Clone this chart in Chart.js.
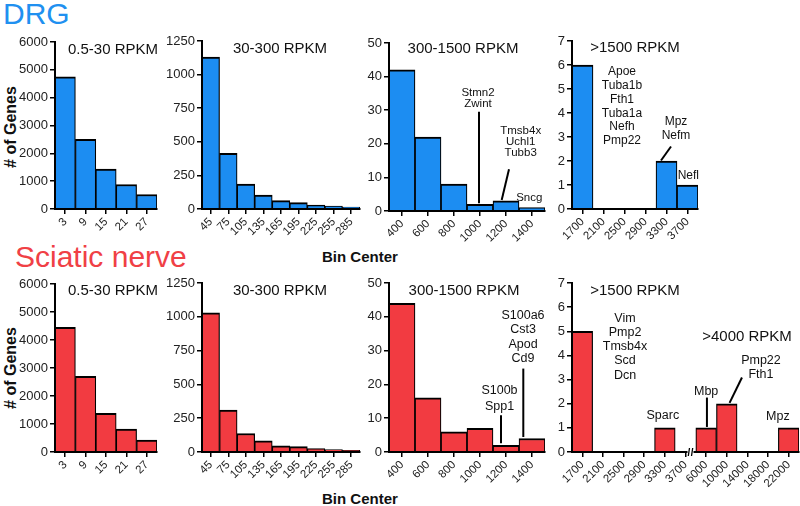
<!DOCTYPE html>
<html><head><meta charset="utf-8">
<script src="https://cdn.jsdelivr.net/npm/chart.js@4.4.0/dist/chart.umd.min.js"></script>
<style>
html,body{margin:0;padding:0;background:#fff;}
#wrap{position:relative;width:800px;height:506px;overflow:hidden;font-family:'Liberation Sans',Arial,Helvetica,sans-serif;background:#fff;}
canvas{position:absolute;left:0;top:0;}
.lbl{position:absolute;white-space:nowrap;line-height:1;}
.rot{transform:translate(-50%,-50%) rotate(-90deg);}
</style></head><body>
<div id="wrap">
  <div class="lbl" style="left:3px;top:-1px;font-size:30px;color:#2090F0">DRG</div>
  <div class="lbl" style="left:15px;top:241.5px;font-size:30px;color:#F04045">Sciatic nerve</div>
  <div class="lbl rot" style="left:10.5px;top:127px;font-size:16px;font-weight:bold;color:#111">&#35; of Genes</div>
  <div class="lbl rot" style="left:10.5px;top:368px;font-size:16px;font-weight:bold;color:#111">&#35; of Genes</div>
  <div class="lbl" style="left:322px;top:248.5px;font-size:15px;font-weight:bold;color:#111">Bin Center</div>
  <div class="lbl" style="left:322px;top:491.3px;font-size:15px;font-weight:bold;color:#111">Bin Center</div>
</div>
<script>
// ---------- data ----------
const lowBins = ['3', '9', '15', '21', '27'];
const midBins = ['45', '75', '105', '135', '165', '195', '225', '255', '285'];
const highBins = ['400', '600', '800', '1000', '1200', '1400'];
const topBinsDRG = ['1700', '2100', '2500', '2900', '3300', '3700'];
const topBinsSN = ['1700', '2100', '2500', '2900', '3300', '3700', '6000', '10000', '14000', '18000', '22000'];

const drgLowCounts = [4750, 2500, 1430, 880, 520];
const drgMidCounts = [1130, 415, 186, 104, 62, 47, 30, 22, 15];
const drgHighCounts = [42, 22, 8, 2, 3, 1];
const drgTopCounts = [6, 0, 0, 0, 2, 1];

const snLowCounts = [4450, 2700, 1380, 820, 430];
const snMidCounts = [1030, 310, 137, 82, 45, 40, 25, 18, 12];
const snHighCounts = [44, 16, 6, 7, 2, 4];
const snTopCounts = [5, 0, 0, 0, 1, 0, 1, 2, 0, 0, 1];

const drgGenes1000 = ['Stmn2', 'Zwint'];
const drgGenes1200 = ['Tmsb4x', 'Uchl1', 'Tubb3'];
const drgGenes1400 = ['Sncg'];
const drgGenes1700 = ['Apoe', 'Tuba1b', 'Fth1', 'Tuba1a', 'Nefh', 'Pmp22'];
const drgGenes3300 = ['Mpz', 'Nefm'];
const drgGenes3700 = ['Nefl'];
const snGenes1200 = ['S100b', 'Spp1'];
const snGenes1400 = ['S100a6', 'Cst3', 'Apod', 'Cd9'];
const snGenes1700 = ['Vim', 'Pmp2', 'Tmsb4x', 'Scd', 'Dcn'];
const snGenes3300 = ['Sparc'];
const snGenes6000 = ['Mbp'];
const snGenes10000 = ['Pmp22', 'Fth1'];
const snGenes22000 = ['Mpz'];

// ---------- style ----------
const FONT = "'Liberation Sans', Arial, Helvetica, sans-serif";
const BLUE = '#1C8DF2';
const RED = '#F23B41';
Chart.defaults.font.family = FONT;
Chart.defaults.color = '#222';

const annotate = {
  id: 'annotate',
  afterDatasetsDraw(chart, args, opts) {
    const ctx = chart.ctx, xs = chart.scales.x, ys = chart.scales.y;
    const vals = chart.data.datasets[0].data;
    ctx.save();
    ctx.fillStyle = '#111';
    ctx.strokeStyle = '#000';
    ctx.textAlign = 'center';
    ctx.textBaseline = 'middle';
    (opts.titles || []).forEach(t => {
      ctx.font = (t.size || 15) + 'px ' + FONT;
      ctx.fillText(t.text, t.x, t.y);
    });
    (opts.notes || []).forEach(n => {
      const bx = xs.getPixelForValue(n.bin), by = ys.getPixelForValue(vals[n.bin]);
      ctx.font = n.size + 'px ' + FONT;
      n.genes.forEach((g, i) => ctx.fillText(g, bx + n.dx, by + n.dy + i * (n.lh || 0)));
      if (n.line) {
        ctx.lineWidth = 2;
        ctx.beginPath();
        ctx.moveTo(bx + n.line[0], by + n.line[1]);
        ctx.lineTo(bx + n.line[2], by + n.line[3]);
        ctx.stroke();
      }
    });
    ctx.restore();
  },
  afterDraw(chart, args, opts) {
    if (opts.breakBin == null) return;
    const ctx = chart.ctx, xs = chart.scales.x;
    const x = xs.getPixelForValue(opts.breakBin) + opts.breakDx;
    const y = chart.chartArea.bottom;
    ctx.save();
    ctx.fillStyle = '#fff';
    ctx.fillRect(x - 3, y - 2, 6, 4);
    ctx.strokeStyle = '#000';
    ctx.lineWidth = 1.3;
    ctx.beginPath();
    ctx.moveTo(x - 2.2, y + 4); ctx.lineTo(x - 1, y - 4);
    ctx.moveTo(x + 1, y + 4); ctx.lineTo(x + 2.2, y - 4);
    ctx.stroke();
    ctx.restore();
  }
};

const AXW = 40, AXH = 40;
function makeChart(c) {
  const canvas = document.createElement('canvas');
  canvas.width = 800; canvas.height = 506;
  document.getElementById('wrap').appendChild(canvas);
  const [L, R, T, B] = c.area;
  const axisGrid = {display: true, drawOnChartArea: false, offset: false, tickLength: 5, color: '#000', lineWidth: 1.5};
  const axisBorder = {display: true, color: '#000', width: 2, z: 1};
  new Chart(canvas, {
    type: 'bar',
    data: {
      labels: c.labels,
      datasets: [{
        data: c.values,
        backgroundColor: c.color,
        borderColor: '#000',
        borderWidth: {top: 2, left: 1.2, right: 1.2, bottom: 0},
        barPercentage: 1,
        categoryPercentage: 1
      }]
    },
    options: {
      responsive: false, animation: false, devicePixelRatio: 1, events: [],
      layout: {padding: {left: L - AXW, top: T, right: 800 - R, bottom: 506 - B - AXH}},
      plugins: {
        legend: {display: false}, tooltip: {enabled: false},
        annotate: {titles: c.titles, notes: c.notes || [], breakBin: c.breakBin, breakDx: c.breakDx}
      },
      scales: {
        x: {
          afterFit(s) { s.height = AXH; },
          grid: axisGrid, border: axisBorder,
          ticks: {autoSkip: false, maxRotation: 45, minRotation: 45, padding: 1, font: {size: 11.5}, color: '#222'}
        },
        y: {
          min: 0, max: c.max,
          afterFit(s) { s.width = AXW; },
          grid: axisGrid, border: axisBorder,
          ticks: {stepSize: c.step, padding: 2, font: {size: 13}, color: '#222', callback: v => String(v)}
        }
      }
    },
    plugins: [annotate]
  });
}

// ---------- DRG row ----------
makeChart({labels: lowBins, values: drgLowCounts, color: BLUE, area: [55, 157, 42, 209], max: 6000, step: 1000,
  titles: [{text: '0.5-30 RPKM', x: 113, y: 50}]});
makeChart({labels: midBins, values: drgMidCounts, color: BLUE, area: [202, 360, 41, 209], max: 1250, step: 250,
  titles: [{text: '30-300 RPKM', x: 280, y: 49}]});
makeChart({labels: highBins, values: drgHighCounts, color: BLUE, area: [389, 545, 43, 211], max: 50, step: 10,
  titles: [{text: '300-1500 RPKM', x: 463, y: 49}],
  notes: [
    {genes: drgGenes1000, bin: 3, dx: -2, dy: -111, lh: 11, size: 11.5, line: [-1, -92.5, -1, -1]},
    {genes: drgGenes1200, bin: 4, dx: 14.7, dy: -70.2, lh: 11, size: 11.5, line: [3, -31.6, -4.3, -1]},
    {genes: drgGenes1400, bin: 5, dx: -2.7, dy: -9.9, size: 11.5}
  ]});
makeChart({labels: topBinsDRG, values: drgTopCounts, color: BLUE, area: [572, 698, 41, 209], max: 7, step: 1,
  titles: [{text: '>1500 RPKM', x: 635, y: 48}],
  notes: [
    {genes: drgGenes1700, bin: 0, dx: 39.5, dy: 6.9, lh: 13.8, size: 12},
    {genes: drgGenes3300, bin: 4, dx: 9.5, dy: -39.5, lh: 14.5, size: 12, line: [4.5, -14.5, -5.5, -0.5]},
    {genes: drgGenes3700, bin: 5, dx: 0.8, dy: -9.6, size: 12}
  ]});

// ---------- Sciatic nerve row ----------
makeChart({labels: lowBins, values: snLowCounts, color: RED, area: [55, 157, 284, 452], max: 6000, step: 1000,
  titles: [{text: '0.5-30 RPKM', x: 113, y: 291}]});
makeChart({labels: midBins, values: snMidCounts, color: RED, area: [202, 360, 283, 452], max: 1250, step: 250,
  titles: [{text: '30-300 RPKM', x: 280, y: 291}]});
makeChart({labels: highBins, values: snHighCounts, color: RED, area: [389, 545, 283, 452], max: 50, step: 10,
  titles: [{text: '300-1500 RPKM', x: 464, y: 291}],
  notes: [
    {genes: snGenes1200, bin: 4, dx: -6.5, dy: -54.3, lh: 16, size: 12.5, line: [-5, -30, -5, -2]},
    {genes: snGenes1400, bin: 5, dx: -9, dy: -123.2, lh: 14.4, size: 12.5, line: [-8.7, -69.9, -8.7, -1.5]}
  ]});
makeChart({labels: topBinsSN, values: snTopCounts, color: RED, area: [572, 799, 283, 452], max: 7, step: 1,
  titles: [{text: '>1500 RPKM', x: 635, y: 291}, {text: '>4000 RPKM', x: 747, y: 337}],
  breakBin: 5, breakDx: 5,
  notes: [
    {genes: snGenes1700, bin: 0, dx: 42.7, dy: -12.9, lh: 14.2, size: 12.5},
    {genes: snGenes3300, bin: 4, dx: -2, dy: -12.6, size: 12.5},
    {genes: snGenes6000, bin: 6, dx: 0, dy: -36.6, size: 12.5, line: [0.8, -30.3, 0.8, -0.9]},
    {genes: snGenes10000, bin: 7, dx: 34.2, dy: -43.5, lh: 14.3, size: 12.5, line: [15.2, -26.2, 2.8, -0.8]},
    {genes: snGenes22000, bin: 10, dx: -10.8, dy: -10.9, size: 12.5}
  ]});
</script>
</body></html>
